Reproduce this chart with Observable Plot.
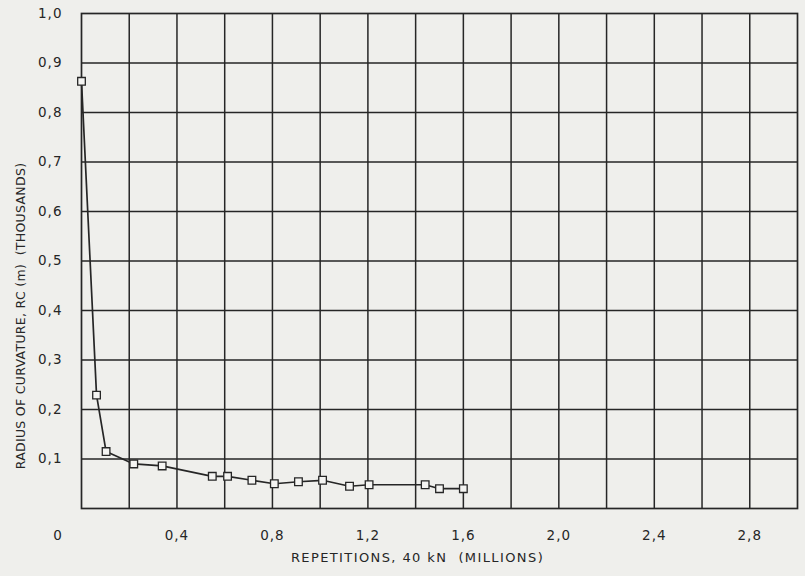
<!DOCTYPE html>
<html>
<head>
<meta charset="utf-8">
<script src="https://cdn.jsdelivr.net/npm/d3@7"></script>
<script src="https://cdn.jsdelivr.net/npm/@observablehq/plot@0.6"></script>
<style>
  html, body { margin: 0; padding: 0; background: #efefec; }
  #chart { width: 805px; height: 576px; }
</style>
</head>
<body>
<div id="chart"></div>
<script>
const repetitions = [0, 0.063, 0.103, 0.219, 0.338, 0.548, 0.612, 0.714, 0.808, 0.909, 1.01, 1.123, 1.205, 1.44, 1.50, 1.60];
const radius      = [0.863, 0.229, 0.115, 0.090, 0.086, 0.065, 0.065, 0.057, 0.050, 0.054, 0.057, 0.045, 0.048, 0.048, 0.040, 0.040];
const xGrid = [0.2,0.4,0.6,0.8,1.0,1.2,1.4,1.6,1.8,2.0,2.2,2.4,2.6,2.8];
const yGrid = [0.1,0.2,0.3,0.4,0.5,0.6,0.7,0.8,0.9];
const xTickLabels = [0.4, 0.8, 1.2, 1.6, 2.0, 2.4, 2.8];
const yTickLabels = [0.1,0.2,0.3,0.4,0.5,0.6,0.7,0.8,0.9,1.0];
const xTitle = "REPETITIONS, 40 kN  (MILLIONS)";
const yTitle = "RADIUS OF CURVATURE, RC (m)  (THOUSANDS)";

const data = repetitions.map((x, i) => ({x, y: radius[i]}));
const fmt = d => d.toFixed(1).replace(".", ",");
const ink = "#262626";
const font = "DejaVu Sans, sans-serif";

const chart = Plot.plot({
  width: 805,
  height: 576,
  marginLeft: 81,
  marginRight: 8,
  marginTop: 13,
  marginBottom: 68,
  style: {background: "#efefec", fontFamily: font, color: ink},
  x: {domain: [0, 3], axis: null},
  y: {domain: [0, 1], axis: null},
  marks: [
    Plot.ruleX(xGrid, {stroke: ink, strokeWidth: 1.5}),
    Plot.ruleY(yGrid, {stroke: ink, strokeWidth: 1.5}),
    Plot.frame({stroke: ink, strokeWidth: 1.7}),
    Plot.text(xTickLabels, {x: d => d, y: 0, dy: 27, text: fmt, fontSize: 13.5, fill: ink}),
    Plot.text([0], {x: d => d, y: 0, dy: 27, dx: -24, text: d => "0", fontSize: 13.5, fill: ink}),
    Plot.text(yTickLabels, {x: 0, y: d => d, dx: -19, textAnchor: "end", text: fmt, fontSize: 13.5, fill: ink}),
    Plot.line(data, {x: "x", y: "y", stroke: ink, strokeWidth: 1.7}),
    Plot.dot(data, {x: "x", y: "y", symbol: "square", r: 4.3, fill: "#f4f4f2", stroke: ink, strokeWidth: 1.3}),
    Plot.text([xTitle], {frameAnchor: "bottom", dx: -22, dy: 53, text: d => d, fontSize: 13, fill: ink}),
    Plot.text([yTitle], {frameAnchor: "left", textAnchor: "middle", dx: -61, dy: 55, rotate: -90, text: d => d, fontSize: 12.5, fill: ink})
  ]
});
const sel = d3.select(chart).selectAll("text");
sel.filter(function() { return this.textContent === xTitle; }).style("letter-spacing", "1.4px");
sel.filter(function() { return this.textContent === yTitle; }).style("letter-spacing", "0.3px");
sel.filter(function() { return /^\d,\d$/.test(this.textContent); }).style("letter-spacing", "1px");
document.getElementById("chart").appendChild(chart);
</script>
</body>
</html>
